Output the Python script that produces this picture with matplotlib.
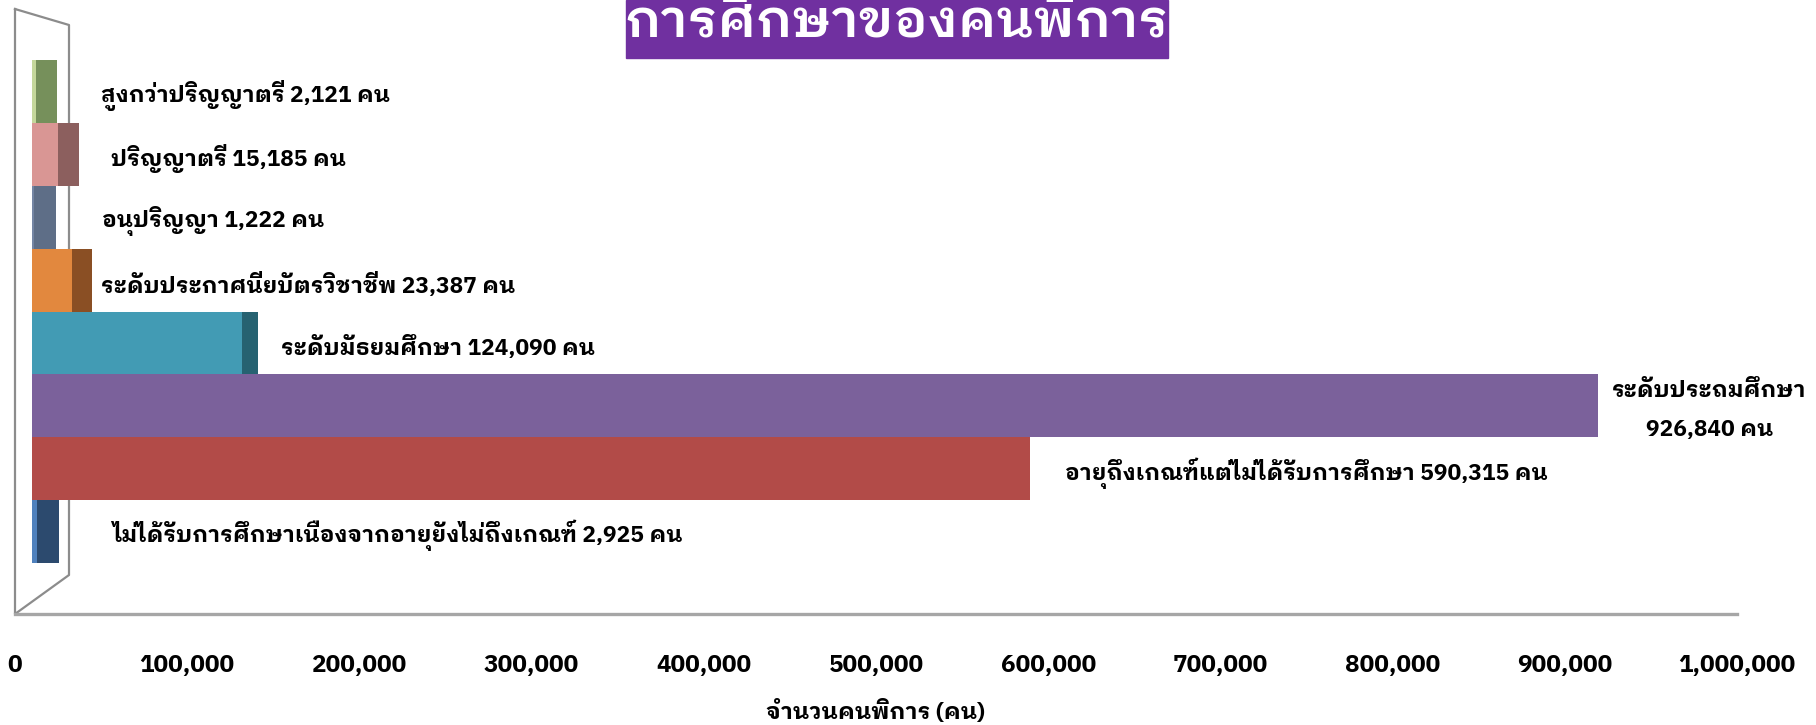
import numpy as np
import matplotlib
matplotlib.use("Agg")
import matplotlib.pyplot as plt
from matplotlib import font_manager as fm
from matplotlib.ft2font import FT2Font
from matplotlib.patches import Rectangle

# data, bottom bar first
categories = ["ไม่ได้รับการศึกษาเนื่องจากอายุยังไม่ถึงเกณฑ์",
              "อายุถึงเกณฑ์แต่ไม่ได้รับการศึกษา",
              "ระดับประถมศึกษา",
              "ระดับมัธยมศึกษา",
              "ระดับประกาศนียบัตรวิชาชีพ",
              "อนุปริญญา",
              "ปริญญาตรี",
              "สูงกว่าปริญญาตรี"]
counts = [2925, 590315, 926840, 124090, 23387, 1222, 15185, 2121]
xticks = [0, 100000, 200000, 300000, 400000, 500000,
          600000, 700000, 800000, 900000, 1000000]
title = "การศึกษาของคนพิการ"
xlabel = "จำนวนคนพิการ (คน)"
unit = "คน"

front_colors = ["#4f81bd", "#b24b48", "#7b619b", "#429bb4",
                "#e2883e", "#7485a3", "#d99694", "#c4d79b"]
side_colors = ["#2c4a6e", "#b24b48", "#7b619b", "#266271",
               "#8a4f24", "#5e6e87", "#8c5f5e", "#76905b"]
label_gap = [53, 35, 14, 23, 9, 46, 32, 44]   # px between bar end and label


def find_thai():
    names = []
    for f in fm.fontManager.ttflist:
        if f.name in names:
            continue
        try:
            cmap = FT2Font(f.fname).get_charmap()
        except Exception:
            continue
        if 0x0E01 in cmap and 0x0E04 in cmap and 0x0031 in cmap:
            names.append(f.name)
    pref = ["Tahoma", "Leelawadee", "Looped", "Loma", "Garuda", "Thai"]

    def rank(n):
        for k, p in enumerate(pref):
            if p in n:
                return k
        return len(pref)
    names.sort(key=rank)
    return names


thai = find_thai()
plt.rcParams["font.family"] = thai[:2] + ["DejaVu Sans"]

W, H = 1816, 725
fig = plt.figure(figsize=(W / 100, H / 100), dpi=100)

# background: back wall + title box
bg = fig.add_axes([0, 0, 1, 1], zorder=0)
bg.set_xlim(0, W)
bg.set_ylim(H, 0)
bg.axis("off")
bg.plot([15, 15, 69, 69, 15], [9, 614, 575, 25, 9], color="#8c8c8c", lw=1.6)
bg.add_patch(Rectangle((626, 0), 542, 58, color="#7030a0"))
bg.text(897, 36, title, color="white", fontsize=38, ha="center",
        va="baseline", fontweight="semibold")

# floor + tick labels
ax_t = fig.add_axes([15 / W, 1 - 614 / H, 1722 / W, 605 / H], zorder=1)
ax_t.patch.set_visible(False)
ax_t.set_xlim(0, 1000000)
for s in ["top", "left", "right"]:
    ax_t.spines[s].set_visible(False)
ax_t.spines["bottom"].set_color("#a6a6a6")
ax_t.spines["bottom"].set_linewidth(2.4)
ax_t.set_yticks([])
ax_t.set_xticks(xticks)
ax_t.set_xticklabels([f"{t:,}" for t in xticks], fontsize=17.5, fontweight="bold")
ax_t.tick_params(axis="x", length=0, pad=29)
ax_t.set_xlabel(xlabel, fontsize=16.6, fontweight="bold")
ax_t.xaxis.label.set_va("center")
ax_t.xaxis.set_label_coords(0.5, -(711 - 614) / 605)

# bars
ax = fig.add_axes([32 / W, 1 - 563 / H, 1690 / W, 503 / H], zorder=2)
ax.patch.set_visible(False)
ax.set_xlim(0, 1000000)
ax.set_ylim(-0.5, 7.5)
ax.axis("off")

y = np.arange(len(counts))
vals = np.array(counts, dtype=float)
side = np.clip(13000 * (1 - vals / 480000), 0, None)
ax.barh(y, vals, height=1.0, color=front_colors, linewidth=0)
ax.barh(y, side, left=vals, height=1.0, color=side_colors, linewidth=0)

for i, (name, v) in enumerate(zip(categories, counts)):
    if v > 800000:
        txt = f"{name}\n{v:,} {unit}"
    else:
        txt = f"{name} {v:,} {unit}"
    ax.annotate(txt, xy=(v + side[i], i), xytext=(label_gap[i] * 0.72, -3),
                textcoords="offset points", ha="left", va="center",
                multialignment="center", linespacing=2.1,
                fontsize=16.4, fontweight="bold")

fig.savefig("out.png", dpi=100)
